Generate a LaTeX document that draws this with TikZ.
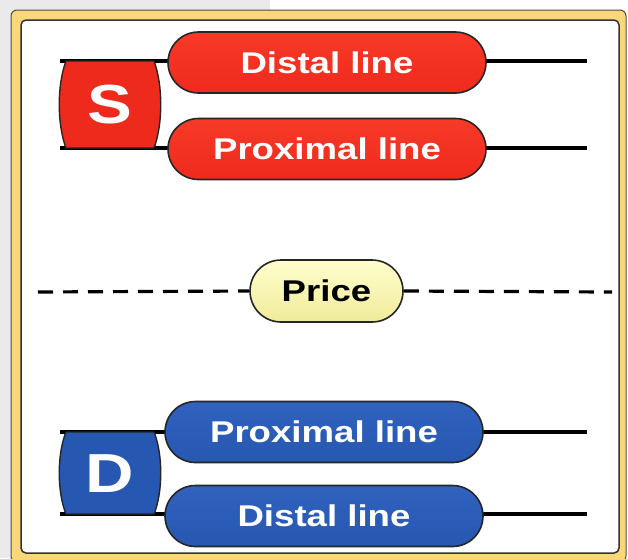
\documentclass[tikz,border=0pt]{standalone}
\usepackage{fontspec}
\setmainfont{Liberation Sans}[FakeStretch=1.22]
\usetikzlibrary{shapes.misc}
\definecolor{sred}{RGB}{238,42,28}
\definecolor{sredlt}{RGB}{248,58,40}
\definecolor{dblue}{RGB}{38,88,178}
\definecolor{dbluelt}{RGB}{48,98,190}
\definecolor{pyel}{RGB}{255,255,205}
\definecolor{pyeldk}{RGB}{240,235,155}
\definecolor{frameyel}{RGB}{250,215,120}
\definecolor{bggray}{RGB}{234,234,234}
\tikzset{
  pill/.style={rounded rectangle, draw=black!85, line width=1.6pt, minimum width=318pt,
    minimum height=61pt, inner sep=0pt, text=white,
    font=\fontsize{30}{30}\selectfont\bfseries},
  redpill/.style={pill, top color=sredlt, bottom color=sred},
  bluepill/.style={pill, top color=dbluelt, bottom color=dblue},
  pricepill/.style={pill, minimum width=153pt, minimum height=62pt, text=black,
    top color=pyel, bottom color=pyeldk},
  level/.style={line width=3.4pt, black},
  barrel/.style={draw=black!85, line width=1.4pt, line join=round},
  letter/.style={text=white, inner sep=0pt, font=\fontsize{55}{55}\selectfont\bfseries},
  pricedash/.style={line width=3.2pt, black, dash pattern=on 15pt off 10pt}
}
\begin{document}
\begin{tikzpicture}[x=1pt,y=-1pt]
\useasboundingbox (0,0) rectangle (628,558);
\fill[white] (0,0) rectangle (628,558);
\fill[bggray] (0,0) rectangle (12,558);
\fill[bggray] (0,0) rectangle (270,10);
% frame
\draw[fill=frameyel, draw=black!70, line width=1pt, rounded corners=6pt] (11,10) rectangle (626,562);
\draw[fill=white, draw=black!80, line width=1.5pt, rounded corners=5pt] (21,20) rectangle (619,553);

% supply lines
\coordinate (s1l) at (60,61);
\coordinate (s1r) at (587,61);
\coordinate (s2l) at (60,148);
\coordinate (s2r) at (587,148);
\draw[level] (s1l) -- (s1r);
\draw[level] (s2l) -- (s2r);
\draw[barrel, fill=sred] (66,61) -- (154,61) .. controls (163,85) and (163,124) .. (154,148)
  -- (66,148) .. controls (57,124) and (57,85) .. (66,61) -- cycle;
\node[letter] (S) at (110,104.5) {S};
\node[redpill] (sdist) at (327,62.5) {Distal line};
\node[redpill] (sprox) at (327,149) {Proximal line};

% price
\coordinate (pl) at (38,292);
\coordinate (pr) at (612,292);
\node[pricepill] (price) at (326.5,291) {Price};
\draw[pricedash] (pl) -- (price.west);
\draw[pricedash] (price.east) -- (pr);

% demand lines
\coordinate (d1l) at (60,432);
\coordinate (d1r) at (587,432);
\coordinate (d2l) at (60,514);
\coordinate (d2r) at (587,514);
\draw[level] (d1l) -- (d1r);
\draw[level] (d2l) -- (d2r);
\draw[barrel, fill=dblue] (66,432) -- (154,432) .. controls (163,454) and (163,492) .. (154,514)
  -- (66,514) .. controls (57,492) and (57,454) .. (66,432) -- cycle;
\node[letter] (D) at (110,474) {D};
\node[bluepill] (dprox) at (324,432) {Proximal line};
\node[bluepill] (ddist) at (324,516) {Distal line};
\end{tikzpicture}
\end{document}
